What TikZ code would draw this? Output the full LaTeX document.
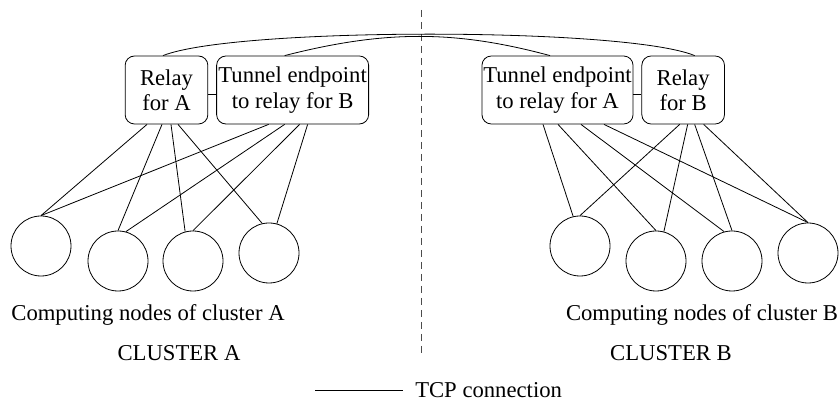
\documentclass[tikz,border=0pt]{standalone}
\usepackage{fontspec}
\setmainfont{Liberation Serif}
\usetikzlibrary{positioning}

\begin{document}
\begin{tikzpicture}[x=0.75pt, y=-0.75pt, node distance=6pt,
  every node/.style={font=\fontsize{17}{19}\selectfont},
  relay/.style={rectangle, draw, rounded corners=7pt, line width=0.6pt,
                minimum height=51pt, inner sep=1pt, align=center},
  cnode/.style={circle, draw, line width=0.6pt, minimum size=45pt, inner sep=0pt},
  tcp/.style={line width=0.6pt}]
  \useasboundingbox (0,0) rectangle (839,402);
  % cluster A
  \node[relay, minimum width=62pt] (relA) at (166.5,90) {Relay\\for A};
  \node[relay, minimum width=114pt, right=of relA] (tunB) {Tunnel endpoint\\to relay for B};
  \node[cnode] (a1) at (41,246) {};
  \node[cnode] (a2) at (118,261) {};
  \node[cnode] (a3) at (193,261) {};
  \node[cnode] (a4) at (269,253) {};
  \node (labA) at (148,315) {Computing nodes of cluster A};
  \node (clA) at (179,353) {CLUSTER A};
  % cluster B
  \node[relay, minimum width=113pt] (tunA) at (557.5,90) {Tunnel endpoint\\to relay for A};
  \node[relay, minimum width=62pt, right=of tunA] (relB) {Relay\\for B};
  \node[cnode] (b1) at (580,246) {};
  \node[cnode] (b2) at (656,261) {};
  \node[cnode] (b3) at (732,261) {};
  \node[cnode] (b4) at (808,253) {};
  \node (labB) at (702,315) {Computing nodes of cluster B};
  \node (clB) at (671,353) {CLUSTER B};
  % divider
  \coordinate (divtop) at (421,10);
  \coordinate (divbot) at (421,355);
  \draw[black!70, line width=0.6pt, dash pattern=on 5.25pt off 3.75pt] (divtop) -- (divbot);
  % links inside cluster A
  \draw[tcp] ([shift={(0,4)}]relA.east) -- ([shift={(0,4)}]tunB.west);
  \draw[tcp] ([shift={(-19.5,0)}]relA.south) -- (a1.north);
  \draw[tcp] ([shift={(-4.5,0)}]relA.south) -- (a2.north);
  \draw[tcp] ([shift={(4.5,0)}]relA.south) -- (a3.105);
  \draw[tcp] ([shift={(11.5,0)}]relA.south) -- (a4.103);
  \draw[tcp] ([shift={(-24,0)}]tunB.south) -- (a1.north);
  \draw[tcp] ([shift={(-8,0)}]tunB.south) -- (a2.75);
  \draw[tcp] ([shift={(7,0)}]tunB.south) -- (a3.north);
  \draw[tcp] ([shift={(15,0)}]tunB.south) -- (a4.75);
  % links inside cluster B
  \draw[tcp] ([shift={(0,4)}]tunA.east) -- ([shift={(0,4)}]relB.west);
  \draw[tcp] ([shift={(-14.5,0)}]tunA.south) -- (b1.103);
  \draw[tcp] ([shift={(0.5,0)}]tunA.south) -- (b2.north);
  \draw[tcp] ([shift={(23.5,0)}]tunA.south) -- (b3.105);
  \draw[tcp] ([shift={(46.5,0)}]tunA.south) -- (b4.north);
  \draw[tcp] ([shift={(-3.5,0)}]relB.south) -- (b1.north);
  \draw[tcp] ([shift={(4.5,0)}]relB.south) -- (b2.75);
  \draw[tcp] ([shift={(11.5,0)}]relB.south) -- (b3.north);
  \draw[tcp] ([shift={(20.5,0)}]relB.south) -- (b4.north);
  % links between clusters
  \draw[tcp] ([shift={(-3.5,0)}]relA.north) .. controls (235,27) and (625,27) .. ([shift={(11.5,0)}]relB.north);
  \draw[tcp] ([shift={(-8,0)}]tunB.north) .. controls (385,30) and (455,30) .. ([shift={(-7.5,0)}]tunA.north);
  % legend
  \coordinate (legl) at (315,390);
  \node[anchor=west, inner xsep=9pt] (tcpl) at (403,390) {TCP connection};
  \draw[tcp] (legl) -- (tcpl.west);
\end{tikzpicture}
\end{document}
